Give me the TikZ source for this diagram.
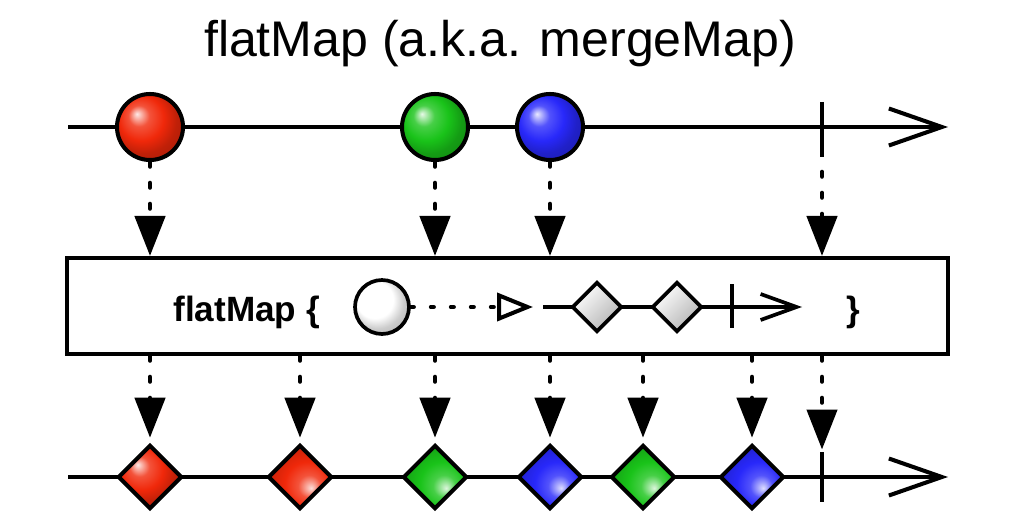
\documentclass[tikz,border=0pt]{standalone}
\usepackage{fontspec}
\setmainfont{Liberation Sans}
\usetikzlibrary{arrows.meta, positioning, shapes.geometric}

\definecolor{marbleRed}{RGB}{240,40,10}
\definecolor{marbleGreen}{RGB}{25,195,25}
\definecolor{marbleBlue}{RGB}{40,40,250}

\makeatletter
\pgfdeclareradialshading[tikz@ball]{shiny}{\pgfpoint{-10bp}{10bp}}{%
  color(0bp)=(tikz@ball!10!white); color(8bp)=(tikz@ball!80!white);
  color(17bp)=(tikz@ball); color(25bp)=(tikz@ball!80!black);
  color(50bp)=(tikz@ball!55!black)}
\pgfdeclareradialshading[tikz@ball]{gemlight}{\pgfpoint{9bp}{-9bp}}{%
  color(0bp)=(tikz@ball!15!white); color(9bp)=(tikz@ball!80!white);
  color(18bp)=(tikz@ball); color(28bp)=(tikz@ball!85!black);
  color(50bp)=(tikz@ball!60!black)}
\makeatother

\begin{document}
\begin{tikzpicture}[x=0.02cm, y=-0.02cm,
    timeline/.style={line width=2.3pt, -{Straight Barb[length=1.06cm, width=0.74cm]}},
    innerline/.style={line width=2.1pt, -{Straight Barb[length=0.72cm, width=0.52cm]}},
    bar/.style={line width=2.3pt},
    emit/.style={line width=2.6pt, line cap=round, dash pattern=on 0.09cm off 0.33cm, -{Triangle[length=0.8cm, width=0.6cm]}},
    hop/.style={line width=2.3pt, line cap=round, dash pattern=on 0.06cm off 0.34cm, -{Triangle[open, length=0.72cm, width=0.56cm]}},
    marble/.style={circle, draw, line width=2.3pt, minimum size=1.32cm, inner sep=0pt, ball color=#1, shading=shiny},
    gem/.style={diamond, draw, line width=2.3pt, minimum size=1.28cm, inner sep=0pt, ball color=#1, shading=gemlight},
    blank/.style={diamond, draw, line width=2.1pt, minimum size=1.0cm, inner sep=0pt, top color=white, middle color=white, bottom color=black!30!white, shading angle=45},
    opbox/.style={rectangle, draw, line width=2.3pt, fill=white, minimum width=17.62cm, minimum height=1.92cm}
]
    \useasboundingbox (0,0) rectangle (1016,530);

    \node[font=\fontsize{28.5}{32}\selectfont] (title) at (500,44) {flatMap (a.k.a. mergeMap)};

    % source line
    \coordinate (srcin) at (68,127);
    \coordinate (srcout) at (948,127);
    \coordinate (srcend) at (822,127);
    \draw[timeline] (srcin) -- (srcout);
    \draw[bar] (822,102) -- (822,157);
    \node[marble=marbleRed] (red1) at (150,127) {};
    \node[marble=marbleGreen] (green1) at (435,127) {};
    \node[marble=marbleBlue] (blue1) at (550,127) {};

    % operator box
    \node[opbox] (op) at (507.5,306) {};
    \node[font=\bfseries\fontsize{20}{24}\selectfont, anchor=base east] (opname) at (326,321) {flatMap \{};
    \node[font=\bfseries\fontsize{20}{24}\selectfont, anchor=base] (opclose) at (853,321) {\}};
    \coordinate (tip) at (533,307);
    \coordinate (resin) at (543,307);
    \coordinate (resout) at (802,307);
    \draw[innerline] (resin) -- (resout);
    \draw[bar, line width=2.1pt] (732,284) -- (732,328);
    \node[circle, draw, line width=2.1pt, minimum size=1.08cm, inner sep=0pt, ball color=white, shading=shiny] (seed) at (382,307) {};
    \draw[hop] (seed) -- (tip);
    \node[blank] (res1) at (597,307) {};
    \node[blank] (res2) at (677,307) {};

    \draw[emit] (red1.south) -- (red1.south |- op.north);
    \draw[emit] (green1.south) -- (green1.south |- op.north);
    \draw[emit] (blue1.south) -- (blue1.south |- op.north);
    \draw[emit] ([yshift=-0.9cm]srcend) -- (srcend |- op.north);

    % result line
    \coordinate (outin) at (68,477);
    \coordinate (outout) at (948,477);
    \coordinate (outend) at (822,477);
    \draw[timeline] (outin) -- (outout);
    \draw[bar] (822,452) -- (822,502);
    \node[gem=marbleRed, shading=shiny] (d1) at (150,477) {};
    \node[gem=marbleRed] (d2) at (300,477) {};
    \node[gem=marbleGreen] (d3) at (435,477) {};
    \node[gem=marbleBlue] (d4) at (550,477) {};
    \node[gem=marbleGreen] (d5) at (643,477) {};
    \node[gem=marbleBlue] (d6) at (752,477) {};

    \foreach \d in {d1,d2,d3,d4,d5,d6}
        \draw[emit, shorten >=3pt] (\d.north |- op.south) -- (\d.north);
    \draw[emit] (outend |- op.south) -- ([yshift=0.55cm]outend);
\end{tikzpicture}
\end{document}
